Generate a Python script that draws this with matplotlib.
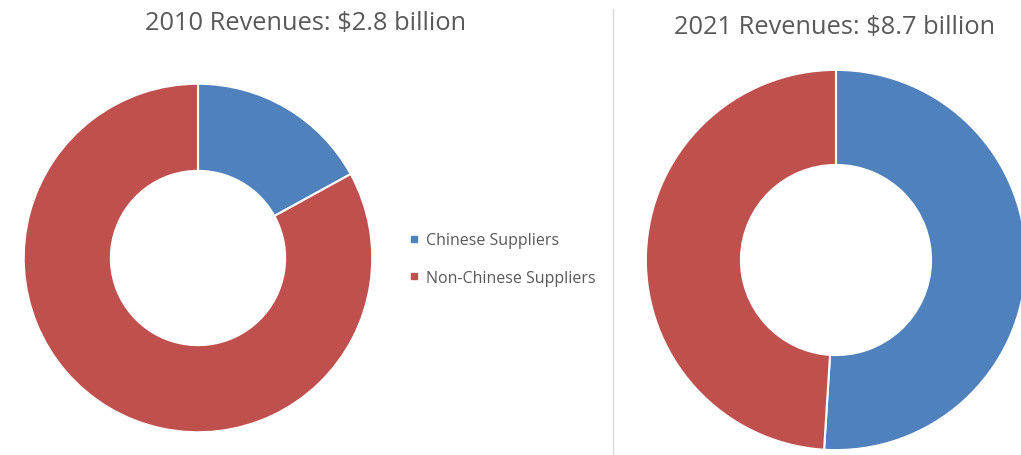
import matplotlib.pyplot as plt
from matplotlib.lines import Line2D

# Revenue split by supplier origin (percent of total)
labels = ["Chinese Suppliers", "Non-Chinese Suppliers"]
share_2010 = [17, 83]
share_2021 = [51, 49]
titles = ["2010 Revenues: $2.8 billion", "2021 Revenues: $8.7 billion"]
colors = ["#4F81BD", "#C0504D"]

W, H = 1021, 456
fig = plt.figure(figsize=(W / 100, H / 100), dpi=100)
plt.rcParams['font.family'] = ['Open Sans', 'DejaVu Sans']


def donut(cx, cy, r, values):
    # axes sized so the pie radius of 1 spans r pixels
    ax = fig.add_axes([(cx - r) / W, (H - cy - r) / H, 2 * r / W, 2 * r / H])
    ax.pie(values, colors=colors, startangle=90, counterclock=False, radius=1,
           wedgeprops=dict(width=0.5, edgecolor="white", linewidth=1.5))
    ax.set_xlim(-1.01, 1.01)
    ax.set_ylim(-1.01, 1.01)
    ax.set_aspect("equal")
    ax.axis("off")
    return ax


donut(198, 259, 176, share_2010)
donut(836, 261, 192, share_2021)

fig.text(306 / W, 1 - 24 / H, titles[0], ha="center", va="center",
         fontsize=18.3, color="#595959")
fig.text(835 / W, 1 - 27 / H, titles[1], ha="center", va="center",
         fontsize=18.3, color="#595959")

# thin divider between the two panels
fig.add_artist(Line2D([613 / W, 613 / W], [0, 1 - 10 / H],
                      color="#D9D9D9", linewidth=1))

handles = [Line2D([], [], marker="s", linestyle="none", markersize=5,
                  markerfacecolor=c, markeredgecolor=c) for c in colors]
fig.legend(handles, labels, loc="center left",
           bbox_to_anchor=(392 / W, 1 - 260 / H), frameon=False,
           fontsize=11.5, labelcolor="#595959", handletextpad=0.2,
           labelspacing=1.35, handlelength=1)

fig.savefig("out.png", dpi=100)
